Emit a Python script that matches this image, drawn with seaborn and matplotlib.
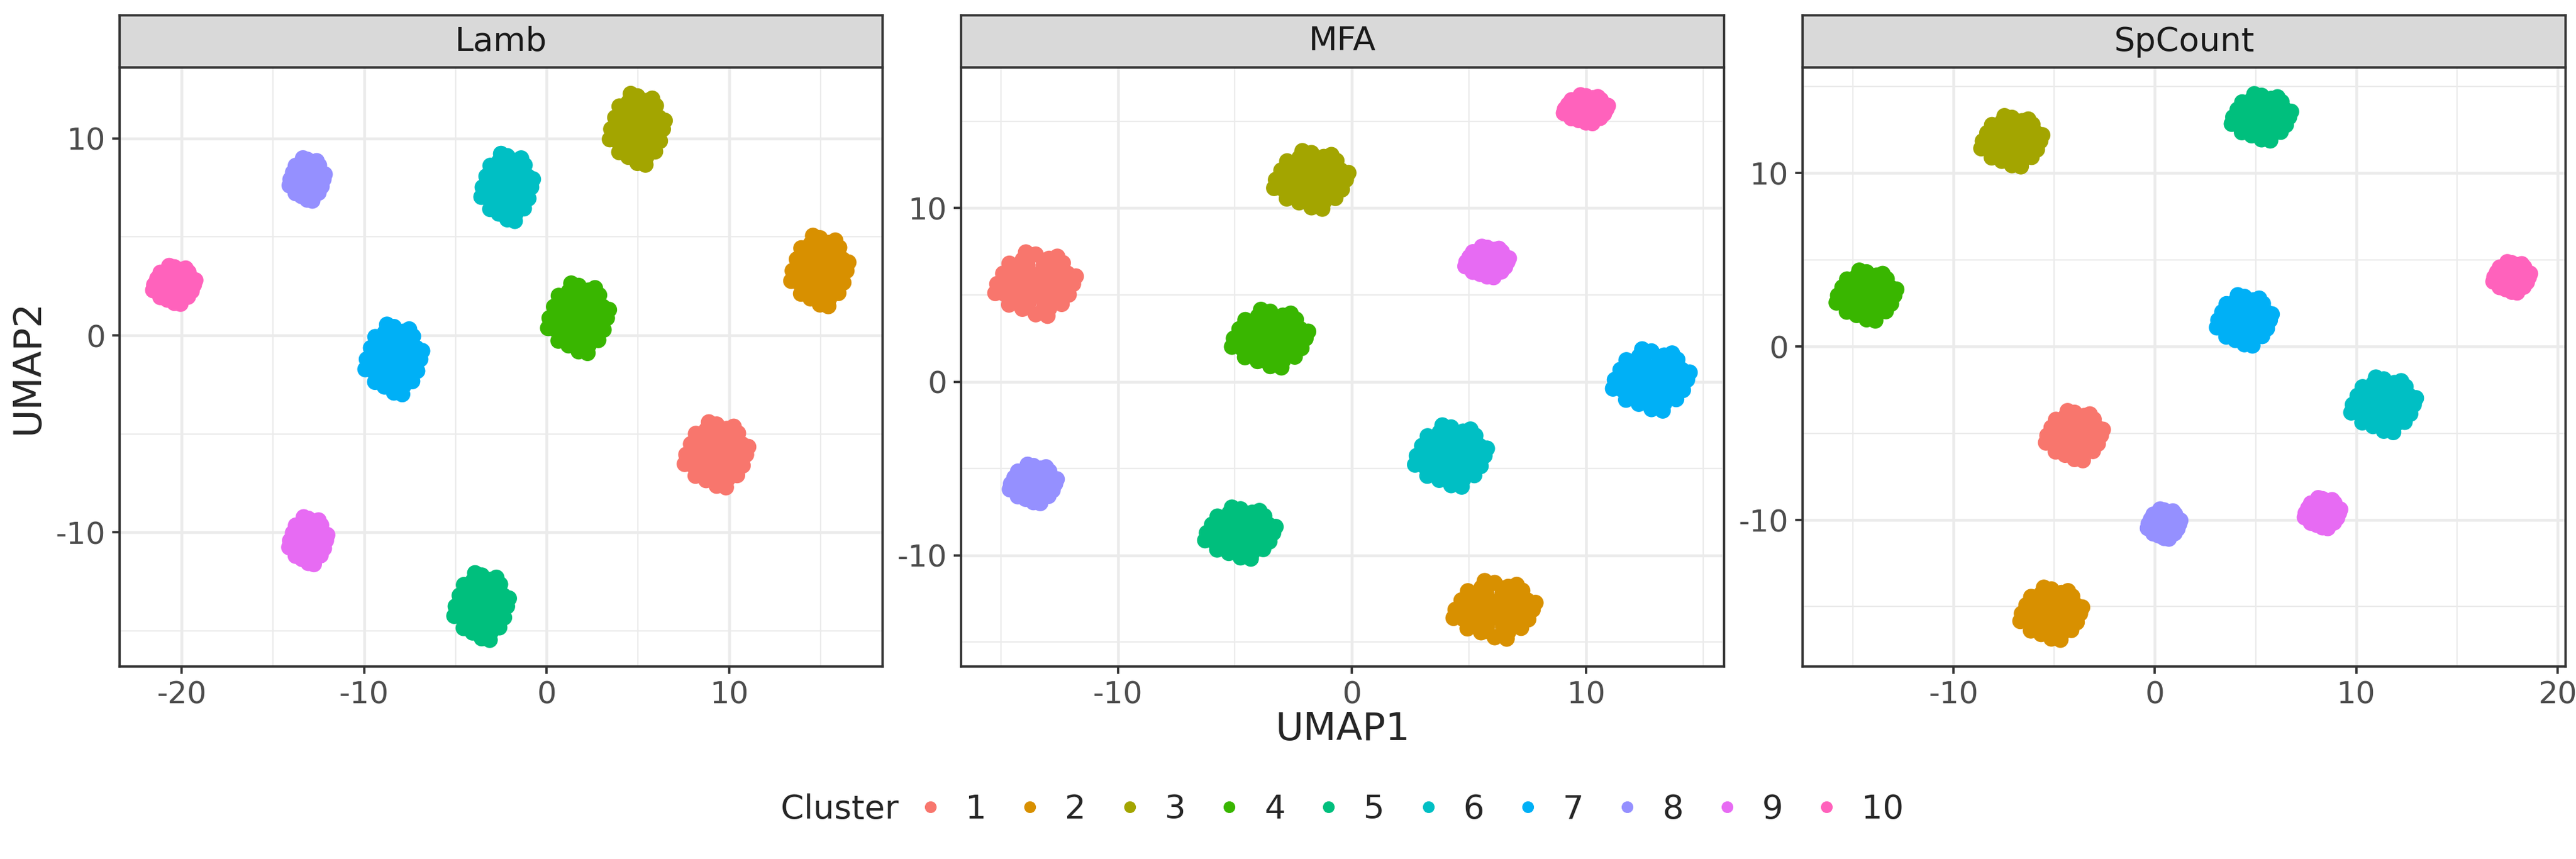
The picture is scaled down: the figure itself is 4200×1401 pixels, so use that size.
import numpy as np
import pandas as pd
import matplotlib.pyplot as plt
import seaborn as sns
from matplotlib.lines import Line2D

# --------------------------------------------
# data
# --------------------------------------------
methods = ["Lamb", "MFA", "SpCount"]
clusters = ["1", "2", "3", "4", "5", "6", "7", "8", "9", "10"]
cluster_colors = ["#F8766D", "#D89000", "#A3A500", "#39B600", "#00BF7D",
                  "#00BFC4", "#00B0F6", "#9590FF", "#E76BF3", "#FF62BC"]

# cluster centres (UMAP1, UMAP2) and half-spreads, per method
lamb_x = [9.31, 14.97, 4.97, 1.75, -3.56, -2.16, -8.37, -13.12, -13.06, -20.40]
lamb_y = [-6.05, 3.28, 10.47, 0.88, -13.75, 7.52, -1.21, 7.92, -10.41, 2.57]
lamb_rx = [1.70, 1.53, 1.47, 1.63, 1.46, 1.38, 1.52, 0.94, 1.02, 1.13]
lamb_ry = [1.58, 1.71, 1.72, 1.69, 1.62, 1.63, 1.69, 1.03, 1.14, 0.92]

mfa_x = [-13.51, 6.10, -1.73, -3.49, -4.76, 4.24, 12.80, -13.61, 5.78, 10.00]
mfa_y = [5.63, -13.13, 11.63, 2.49, -8.71, -4.27, 0.11, -5.88, 6.90, 15.70]
mfa_rx = [1.68, 1.71, 1.55, 1.59, 1.47, 1.50, 1.60, 0.98, 0.91, 0.92]
mfa_ry = [1.75, 1.59, 1.59, 1.59, 1.41, 1.69, 1.69, 1.06, 0.84, 0.77]

spc_x = [-3.99, -5.14, -7.10, -14.32, 5.30, 11.37, 4.45, 0.46, 8.33, 17.73]
spc_y = [-5.13, -15.40, 11.85, 2.95, 13.23, -3.35, 1.52, -10.23, -9.60, 4.00]
spc_rx = [1.38, 1.50, 1.48, 1.45, 1.44, 1.57, 1.33, 0.79, 0.86, 0.89]
spc_ry = [1.36, 1.44, 1.39, 1.38, 1.28, 1.51, 1.39, 0.81, 0.83, 0.84]

# shape of one blob of points (unit spread)
blob_dx = [0.00,
           0.14, -0.14, -0.14, 0.14,
           0.35, 0.17, -0.18, -0.35, -0.17, 0.18,
           0.46, 0.19, -0.19, -0.46, -0.46, -0.19, 0.19, 0.46,
           0.66, 0.52, 0.20, -0.21, -0.53, -0.64, -0.52, -0.19, 0.21, 0.53,
           0.77, 0.57, 0.21, -0.21, -0.57, -0.77, -0.77, -0.57, -0.21, 0.21, 0.57, 0.77,
           0.95, 0.81, 0.69, 0.34, 0.00, -0.33, -0.67, -0.83,
           -0.98, -0.79, -0.68, -0.34, 0.00, 0.34, 0.66, 0.84,
           1.02, -0.25, -1.03, 0.30, 0.55]
blob_dy = [0.00,
           0.14, 0.14, -0.14, -0.14,
           0.00, 0.30, 0.31, 0.01, -0.30, -0.31,
           0.19, 0.46, 0.46, 0.19, -0.19, -0.46, -0.46, -0.19,
           0.02, 0.39, 0.62, 0.61, 0.37, -0.02, -0.38, -0.63, -0.61, -0.39,
           0.21, 0.57, 0.77, 0.77, 0.57, 0.21, -0.21, -0.57, -0.77, -0.77, -0.57, -0.21,
           0.00, 0.34, 0.69, 0.83, 0.97, 0.80, 0.67, 0.34,
           0.00, -0.33, -0.68, -0.82, -1.00, -0.81, -0.66, -0.35,
           0.25, 1.04, -0.30, -1.05, 0.90]

centres = {
    "Lamb": (lamb_x, lamb_y, lamb_rx, lamb_ry),
    "MFA": (mfa_x, mfa_y, mfa_rx, mfa_ry),
    "SpCount": (spc_x, spc_y, spc_rx, spc_ry),
}

rows = []
for m in methods:
    cx, cy, rx, ry = centres[m]
    for k, cl in enumerate(clusters):
        for dx, dy in zip(blob_dx, blob_dy):
            rows.append((m, cl, cx[k] + dx * rx[k], cy[k] + dy * ry[k]))

df = pd.DataFrame(rows, columns=["method", "Cluster", "UMAP1", "UMAP2"])

# --------------------------------------------
# axes settings (free scales per facet)
# --------------------------------------------
limits = {
    "Lamb": ((-23.4, 18.4), (-16.8, 13.6)),
    "MFA": ((-16.7, 15.9), (-16.4, 18.1)),
    "SpCount": ((-17.5, 20.4), (-18.45, 16.1)),
}
major_x = {"Lamb": [-20, -10, 0, 10], "MFA": [-10, 0, 10], "SpCount": [-10, 0, 10, 20]}
major_y = {"Lamb": [-10, 0, 10], "MFA": [-10, 0, 10], "SpCount": [-10, 0, 10]}
minor_x = {"Lamb": [-15, -5, 5, 15], "MFA": [-15, -5, 5, 15], "SpCount": [-15, -5, 5, 15]}
minor_y = {"Lamb": [-15, -5, 5], "MFA": [-15, -5, 5, 15], "SpCount": [-15, -5, 5, 15]}

# --------------------------------------------
# figure
# --------------------------------------------
sns.set_style("white")
plt.rcParams["font.family"] = ["DejaVu Sans"]
plt.rcParams["axes.unicode_minus"] = False

W, H = 4200, 1401
fig = plt.figure(figsize=(14, 4.67), dpi=300)

lefts = [195, 1567, 2939]
pw = 1244
top, bottom = 110, 1087
strip_top = 25

palette = dict(zip(clusters, cluster_colors))
border = "#333333"

for m, lx in zip(methods, lefts):
    ax = fig.add_axes([lx / W, (H - bottom) / H, pw / W, (bottom - top) / H])
    sub = df[df["method"] == m]
    sns.scatterplot(
        data=sub, x="UMAP1", y="UMAP2", hue="Cluster",
        hue_order=clusters, palette=palette,
        s=40, linewidth=0, alpha=1, legend=False, ax=ax, zorder=3
    )
    (x0, x1), (y0, y1) = limits[m]
    ax.set_xlim(x0, x1)
    ax.set_ylim(y0, y1)
    ax.set_xticks(major_x[m])
    ax.set_yticks(major_y[m])
    ax.set_xticks(minor_x[m], minor=True)
    ax.set_yticks(minor_y[m], minor=True)
    ax.grid(True, which="major", color="#EBEBEB", linewidth=1.1, zorder=0)
    ax.grid(True, which="minor", color="#EBEBEB", linewidth=0.55, zorder=0)
    ax.set_axisbelow(True)
    ax.tick_params(which="major", direction="out", length=2.9, width=0.9,
                   color=border, labelsize=12, labelcolor="#4D4D4D", pad=2.5,
                   bottom=True, left=True)
    ax.tick_params(which="minor", length=0)
    for sp in ax.spines.values():
        sp.set_color(border)
        sp.set_linewidth(0.9)
    ax.set_xlabel("")
    ax.set_ylabel("")

    # facet strip
    st = fig.add_axes([lx / W, (H - top) / H, pw / W, (top - strip_top) / H])
    st.set_facecolor("#D9D9D9")
    st.set_xticks([])
    st.set_yticks([])
    for sp in st.spines.values():
        sp.set_color(border)
        sp.set_linewidth(0.9)
    st.text(0.5, 0.5, m, ha="center", va="center", fontsize=13,
            color="#1A1A1A", transform=st.transAxes)

# axis titles
fig.text(2189 / W, 1 - 1190 / H, "UMAP1", ha="center", va="center", fontsize=15)
fig.text(46 / W, 1 - 598 / H, "UMAP2", ha="center", va="center",
         rotation=90, fontsize=15)

# legend at the bottom
handles = [Line2D([], [], marker="o", linestyle="", markersize=4.6,
                  markerfacecolor=c, markeredgewidth=0) for c in cluster_colors]
fig.text(1273 / W, 1 - 1320 / H, "Cluster", ha="left", va="center", fontsize=13)
fig.legend(handles, clusters, loc="center left",
           bbox_to_anchor=(1490 / W, 1 - 1320 / H), ncol=10, frameon=False,
           fontsize=13, handlelength=1.0, handletextpad=0.55,
           columnspacing=0.81, borderpad=0, borderaxespad=0)

fig.savefig("out.png", dpi=300, facecolor="white")
